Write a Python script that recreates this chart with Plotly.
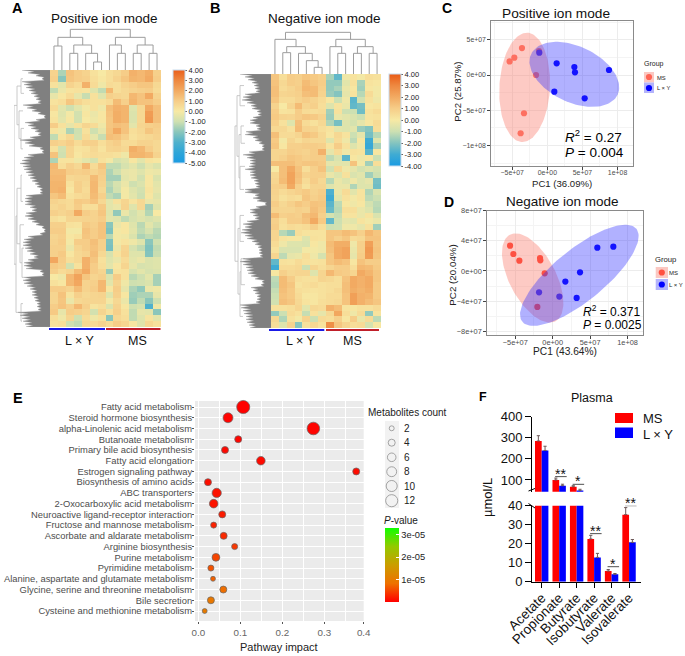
import numpy as np
import plotly.graph_objects as go

W, H = 685, 656

# ---------- heatmap values (estimated, one band per row) ----------
heat_a = [
[.8,-1.5,1.3,1,.8,.3,0,.4,.6,1,1.8,1.6,1.9,.9],
[.9,-2,1.2,1,.9,.4,.1,.4,.8,1.2,1.7,1.6,2,1],
[.3,-.5,.8,.5,1.8,.5,-.2,.5,.4,.8,1,1.2,1.2,.6],
[-1.2,-.3,.2,.3,.2,-.6,-1.2,1.6,.4,.6,.8,.9,1,.5],
[-.4,.1,.5,-.4,-1.1,.3,-.6,.9,.7,.6,1.6,1.3,2,.8],
[.2,.4,1.2,.7,.4,.3,.3,.5,1.5,.9,1.7,1.3,1.3,1],
[.5,-.5,-1,-.5,-.1,.3,-.2,1.4,1.8,1.7,-.6,.6,2,1.4],
[.1,-.6,-.1,-.9,.1,-.3,.1,1.3,1.9,1.7,-.7,.6,2.4,1.4],
[.2,-.5,.1,-.9,0,-.2,.1,1.2,1.9,1.7,-.7,.6,2.5,1.4],
[1,.3,-.4,.3,.7,.5,-.2,1.2,1.4,1.3,-.5,.7,.9,1],
[.2,-.2,-1.5,-1,.3,-1,-.4,1.3,2,1.3,.4,.6,1.2,.9],
[-1.2,.2,.6,-.9,.5,-.4,-1.1,1.4,1.3,.9,.3,.5,.6,.8],
[.9,.7,1,.5,.9,.9,.4,.8,1,.5,.5,.8,.8,.6],
[.3,-.9,.7,.2,.3,.6,.2,.7,.8,.6,1.9,1.6,1,.6],
[1.3,-1,.7,.1,.4,.5,.4,.4,.3,-.2,1.7,1.7,1.5,.8],
[-1.5,.2,.2,-.2,-.5,-.8,.3,-.1,-.8,-.6,.1,-.5,.2,.1],
[1.6,.4,.9,.6,1.6,.5,1.2,-1.2,-1.2,-.8,-.5,-1,-.4,-.7],
[1.5,1.5,1,.9,1,.7,1,-1.5,-1,-.4,-.3,-.6,-.2,-.3],
[1.6,1.6,.6,.7,.7,1.5,.9,-1.6,-1.6,-.5,-.3,-.9,.1,-.7],
[1.7,1.7,.3,.9,.6,1.6,.8,-1.3,-.8,-.3,-1,-.7,.1,-.5],
[1.7,1.8,.1,.9,.5,1.6,.6,-1.5,-.9,-.1,-.6,-.9,.2,-.4],
[1.2,1.5,.3,.5,.6,1.5,.9,-1.2,-1.5,-.1,-.5,-1,.1,-.6],
[.8,.6,.5,1.1,1,1.3,.6,-.5,.3,.7,.2,.6,-.3,-.4],
[.6,.8,.5,1,.4,.4,1.1,-.5,-.3,.8,-.6,.6,-1.6,-.6],
[.9,.7,.9,2,1,.8,1.2,-.6,-1.9,-.3,-.9,-.5,-1.4,0],
[.4,.2,.7,.7,.8,.8,1,-.5,-.6,-1.2,-.8,-.6,-.8,-.6],
[.9,.9,.3,.2,1.1,.9,1.3,-2,-.3,.1,-.6,-1.3,-.5,-1],
[1,1,-.1,-.1,1.3,1,1.3,-2.2,-.1,.1,-.5,-1.2,-.8,-1.3],
[.7,.9,.1,.3,1.2,1,1.3,-1.3,-.1,-.2,-.7,-1.5,-1.2,-1.4],
[.8,1,-.1,1,1,1.4,.9,-2.2,-.1,.2,-.2,-.6,-2,-1],
[.9,.9,-.3,.7,1,1.3,.9,-2.3,-.3,.7,-.8,-1.2,-2.2,-1.2],
[.9,1.1,.1,.6,.8,1.4,.6,-.8,.2,.8,-.6,-.6,-2.1,-1.1],
[2.1,1,.4,.6,1.8,1.2,.3,-.6,-.3,.5,-.5,-.3,-.7,-.6],
[1.1,.9,-.9,.3,1.8,1,.4,-.5,.1,.7,-.4,-.8,-.7,-.6],
[.9,.5,.7,1.5,2,1,.7,-1.8,.2,.3,-.8,-.5,-.8,-.7],
[0,-.2,1.6,2.2,1.2,.7,.9,-.7,1,.3,-1.3,-1,-.5,-1.6],
[.3,.1,1.6,2.1,.8,.9,1.6,-.5,.8,-.2,-1,-.9,-.7,-1.6],
[1,1,.8,1.5,.8,1,1.6,.1,1,-.4,-1.5,-1.9,-.3,-.2],
[.7,1.3,.2,.9,.6,.7,.8,-.6,.9,.1,-1.7,-1.5,-1.5,-.4],
[.7,1.2,-.3,.6,.7,.7,.7,-.1,.6,-.3,-1.8,-1.2,-2,-1],
[1,1.3,.9,1.6,.9,.2,.4,-.7,.8,.1,-1,-.8,-3,-.2],
[1.1,-.4,1,.9,.7,-.9,.7,.3,.9,.3,-1.2,-.4,-.5,-2],
[.4,-.2,.7,-1,.5,-.2,.3,-2,.6,.4,-1.2,-.6,.2,-.5],
[.3,.4,-1,-1.2,.6,.5,.8,.5,1,.7,.1,-.6,.6,.3],
]
heat_b = [
[1.2,.4,1,.9,1.2,1.1,.9,-1.5,-2.5,-.2,.2,-.1,.4,.3],
[1.3,.6,1,.9,1.5,1.2,1,-1.8,-1.8,-.5,.3,-1.5,.2,.1],
[1.4,.5,.7,1,1.6,1.5,.9,-1.8,-1.5,-.3,.1,-1.6,.1,-.1],
[1.4,.7,.8,.9,1.4,1.5,.8,-1.7,-2,-.4,.2,-1.3,.5,-.1],
[1.2,.5,.5,.8,1,.8,.5,.1,-1,-.2,-2.6,-.9,.3,-.2],
[.8,0,.7,1.5,.7,.9,.4,-.6,.2,-.3,-2.5,-2.2,.1,.2],
[1,.2,.3,1,.5,.4,.5,-1.6,.3,-1,-1,-2.3,.3,.5],
[1.1,.8,.7,1,1.2,1.1,.8,-1.7,-.3,-.5,-.7,-1,.2,.3],
[.9,.3,-.6,1.4,.5,.3,.6,-1.4,-2.2,-.6,-.8,-.4,.1,.5],
[.6,.6,.3,1.5,.8,.7,.4,.2,-.5,-.6,-.5,-1.7,-2,.4],
[1.4,.5,.5,.7,1.3,1.1,.6,.1,.6,.2,-1,-.4,-2.2,-1.3],
[1.1,-.1,.7,.4,.7,.6,.6,-.6,.5,-.2,-1.2,.1,-3,-.6],
[1.2,.1,.9,.9,1,1,.9,.2,1,.3,-.6,-.2,-3.2,-1.5],
[.7,.7,1,.9,.8,1,1.8,-.4,.5,-.2,.3,.2,-2.6,.1],
[.7,.9,1.2,1.1,.9,1,1,-1.2,-.7,-2.6,.1,-.2,.1,-1],
[1.4,1.4,1.4,1.1,1.2,1.2,1.1,-.4,-.5,-.5,1.3,-.1,-1.6,.4],
[0,1.4,2,1.3,.4,.9,1.3,-.9,.6,-.2,-.4,-.8,-.6,-.8],
[.6,1.4,2.2,1.4,.8,.9,.9,-.3,-.6,.3,-.7,-.5,-1.6,-1],
[.7,1.5,2.2,1.3,.5,1,.6,-1.3,-.3,-.6,-.2,-.6,-.4,-2.2],
[.9,1,2,.9,.3,.7,.7,-.6,-.3,-.3,-1.4,-.6,-.6,-2.3],
[.8,.5,.7,.9,1.1,.8,1,-2.8,-.3,.5,-.5,.2,-1.4,-.7],
[.7,.3,.5,.4,1.2,.9,1.1,-3,-.5,.3,-.1,.2,-1.2,-1],
[1,.6,.9,1.2,1,1.3,1.2,-2.6,-1.2,.1,-.2,.1,-.8,-1.2],
[.8,.7,.7,.9,.8,1.4,1.1,-2.4,-1.3,.4,.4,-.3,-.6,-1.3],
[1.5,.9,1,.9,1.4,1.6,.9,-.8,-1.1,.2,.2,-.3,.2,-.7],
[.9,.4,1,1,1.3,2,1.1,-2.5,-1,-.4,-.5,.2,-.1,-.3],
[1,.3,.5,.4,.5,.9,.4,-1,-.9,-.2,-.2,-.4,.3,-1.6],
[.7,-1.3,-1.7,.4,.2,.2,.2,1.2,1.2,1.5,1.3,.9,1.6,1.2],
[.7,.2,.1,.1,-.6,.3,.2,1.2,.9,1.2,.5,.6,1.3,1.3],
[.5,-.2,-.6,-.6,-.7,.1,-.2,1.5,1.9,1.9,-.2,.9,2.3,1.2],
[.3,-.7,-.7,-.7,-.1,-.1,-.2,1.4,2,2.2,-.3,.9,2.5,1.3],
[.7,-1.2,-.4,-.3,.4,-.2,-.8,1.2,2,2.2,-.4,1,2.4,1.2],
[-2.5,.3,.2,.5,.3,.2,.3,1.2,1.5,1.3,.1,1.3,1,1],
[-3,.5,.5,.6,-1,.7,.4,.7,1,1,.4,1.6,1.5,1.1],
[.1,.9,.6,.7,.7,-.6,.7,1.6,1.1,1,.7,2,1.7,1.2],
[-1.2,1.5,1,.4,.3,.3,.7,.6,.4,1.3,2,1.8,2,1.2],
[-1.3,1.5,1.2,.2,.4,.5,.3,.4,.4,1.4,2,1.8,2,1.1],
[-1.1,1.4,1.1,.4,.3,.2,.3,.4,.6,1.4,1.9,1.7,1.9,1.1],
[-1,1.3,1.1,.5,.1,.1,.3,.5,.5,1.3,2.3,1.8,1.7,1.1],
[-.9,1.4,1.2,.6,.2,.1,.4,.5,.6,1.3,2.3,1.8,1.5,1.2],
[.3,.3,.4,.7,-.5,.6,.5,1.8,1.5,.2,.1,.3,.3,.5],
[-1.8,-1,.5,.3,-1.1,.3,-.4,.6,2.1,.4,-.2,.5,-1.8,.2],
[.6,-1.4,.3,-.1,.8,-1,.5,.4,.9,.1,1,-.3,.5,-1.2],
[.4,-.6,.8,-1.9,.3,.6,.2,2.8,1.2,.7,.4,.5,-.8,.1],
]
heat_vals_a = [-5,-4,-3,-2,-1,0,1,2,3,4]
heat_cols_a = ['#1a9be2','#2ea5d8','#4fb1cc','#8ac6bb','#cfe0b0','#f7e9a4','#f6cd88','#f2aa62','#ee8840','#ea5f1c']
heat_vals_b = [-4,-3,-2,-1,0,1,2,3,4]
heat_cols_b = ['#1a9be2','#3fabd3','#84c4bf','#cde0b2','#f7e9a4','#f6cd88','#f2aa62','#ee8840','#ea5a14']

# column dendrograms: (left, right, merge height)
col_tree_a = (((0,1,72),((2,3,50),(4,(5,6,24),50),75),98),((7,(8,9,50),75),((10,11,50),(12,13,50),75),98),122)
col_tree_b = ((0,((1,2,64),(3,(4,(5,6,20),40),62),82),104),((7,(8,9,62),82),((10,11,62),(12,13,62),82),104),125)

# row dendrograms: cluster rows, cluster heights, merges, and tip depth by half-row
row_leaf_a = [1,3.5,6.5,9.5,13,17.5,22,26,30,35,39.5,42.5]
row_leaf_h_a = [27,26,27,26,27,28,27,26,26,26,27,28]
row_tree_a = (((0,1,29),(2,(3,4,29),31),33),(((5,6,29),(7,(8,9,28),30),33),(10,11,29),34),36)
row_leaf_b = [1.5,5,8.5,11.5,15.5,19.5,24,28.5,31.5,36,41.5]
row_leaf_h_b = [27,26,27,26,26,27,27,27,26,26,28]
row_tree_b = (((0,1,31),((2,3,30),(4,5,31),32),34),((6,7,31),((8,9,30),10,31),33),36)
tips_a = [28,22,14,8,28,26,24,21,19,16,14,12,27,23,18,12,6,14,25,22,19,15,12,20,30,25,21,10,8,22,26,28,30,27,26,24,22,20,18,15,13,10,10,24,25,25,25,20,18,24,25,22,18,14,8,6,10,22,26,27,27,25,23,20,16,22,26,26,24,10,8,26,27,26,23,20,18,18,16,15,13,13,12,32,30,28,27,25,24]
tips_b = [31,26,23,19,17,16,15,26,28,29,24,20,19,14,13,18,21,21,15,14,25,26,18,16,12,9,9,22,28,24,21,21,22,26,21,21,20,17,16,15,26,26,16,18,14,6,15,21,21,18,16,24,28,26,29,30,26,24,19,16,13,12,12,11,28,31,28,25,24,23,20,16,9,10,20,18,16,14,14,15,31,30,28,27,25,25,24,22,21]

# ---------- PCA scores ----------
c_ms_x = [-3.61e7,-5.37e7,-4.70e7,-1.19e7,-1.61e7,-3.32e7,-3.80e7]
c_ms_y = [3.82e7,1.93e7,2.45e7,3.40e7,0,-5.42e7,-8.25e7]
c_ly_x = [-1.14e7,1.33e7,3.85e7,3.94e7,8.78e7,1.0e7,5.32e7]
c_ly_y = [3.16e7,1.65e7,1.13e7,.38e7,.71e7,-2.36e7,-3.30e7]
d_ms_x = [-5.69e7,-5.25e7,-4.45e7,-1.69e7,-1.65e7,-1.07e7,-2.05e7]
d_ms_y = [3.36e7,2.25e7,1.37e7,1.72e7,1.41e7,-.31e7,-4.77e7]
d_ly_x = [5.96e7,8.10e7,3.65e7,1.69e7,-1.82e7,.89e7,3.2e7]
d_ly_y = [3.09e7,3.23e7,-.18e7,-1.41e7,-2.83e7,-3.40e7,-3.58e7]
# ellipses: centre x, centre y, semi-major, semi-minor, angle in degrees
c_ms_ell = (-3.23e7,-1.75e7,7.75e7,3.6e7,87)
c_ly_ell = (3.85e7,.09e7,6.8e7,3.97e7,-25)
d_ms_ell = (-2.67e7,-.93e7,6.5e7,3.1e7,-62)
d_ly_ell = (3.56e7,-.575e7,9.8e7,3.43e7,39)

# ---------- pathway bubbles ----------
pathways = ["Fatty acid metabolism","Steroid hormone biosynthesis","alpha-Linolenic acid metabolism","Butanoate metabolism",
 "Primary bile acid biosynthesis","Fatty acid elongation","Estrogen signaling pathway","Biosynthesis of amino acids",
 "ABC transporters","2-Oxocarboxylic acid metabolism","Neuroactive ligand-receptor interaction","Fructose and mannose metabolism",
 "Ascorbate and aldarate metabolism","Arginine biosynthesis","Purine metabolism","Pyrimidine metabolism",
 "Alanine, aspartate and glutamate metabolism","Glycine, serine and threonine metabolism","Bile secretion","Cysteine and methionine metabolism"]
impact = [.107,.0707,.274,.095,.0636,.149,.376,.023,.0438,.0366,.057,.0366,.0604,.0866,.042,.030,.035,.0596,.030,.0152]
counts = [14,8,13,4,4,6,4,4,7,6,4,3,4,3,5,3,2,4,4,2]
pvals = [.1e-6,.2e-6,.3e-6,.4e-6,.6e-6,.7e-6,.8e-6,1e-6,1.3e-6,1.5e-6,2e-6,2.5e-6,3e-6,4e-6,5e-6,6e-6,7e-6,8e-6,9.5e-6,10e-6]
legend_counts = [2,4,6,8,10,12]

# ---------- SCFA bars ----------
acids = ["Acetate","Propionate","Butyrate","Isobutyrate","Valerate","Isovalerate"]
ms_vals = [285,100,68,22.5,5.6,35.3]
ly_vals = [240,73,50,12.8,3.9,20.7]
ms_err = [25,9,5,1.9,.8,3.7]
ly_err = [20,7,6,2.1,.4,1.5]
sig_up = [(1,"**",116),(2,"*",79.5)]
sig_low = [(3,"**",25.3),(4,"*",7.9),(5,"**",40)]

FONT = "Liberation Sans"
fig = go.Figure()
layout = dict(width=W, height=H, margin=dict(l=0,r=0,t=0,b=0,autoexpand=False), paper_bgcolor='white', plot_bgcolor='rgba(0,0,0,0)',
              showlegend=False, font=dict(family=FONT, color='#000'), barmode='group', bargap=.233, bargroupgap=0,
              hovermode=False)
annots, shapes = [], []
_n = [0]

def addt(tr, xaxis, yaxis):
    tr.xaxis = xaxis; tr.yaxis = yaxis
    fig.add_trace(tr)

def add_ax(l, r, t, b, x=None, y=None):
    _n[0] += 1
    n = _n[0]
    bx = dict(domain=[l/W, r/W], anchor=f'y{n}', showgrid=False, zeroline=False, visible=False)
    by = dict(domain=[1-b/H, 1-t/H], anchor=f'x{n}', showgrid=False, zeroline=False, visible=False)
    bx.update(x or {}); by.update(y or {})
    layout[f'xaxis{n}'] = bx; layout[f'yaxis{n}'] = by
    return dict(xaxis=f'x{n}', yaxis=f'y{n}')

def txt(x, y, s, size, color='#000', anchor='left', angle=0):
    annots.append(dict(x=x/W, y=1-y/H, xref='paper', yref='paper', text=s, showarrow=False, xanchor=anchor, yanchor='middle',
                       font=dict(size=size, color=color, family=FONT), textangle=angle, borderpad=0, borderwidth=0))

def rect(x0, y0, x1, y1, color):
    shapes.append(dict(type='rect', xref='paper', yref='paper', x0=x0/W, x1=x1/W, y0=1-y0/H, y1=1-y1/H, fillcolor=color, line_width=0, layer='below'))

def seg(x0, y0, x1, y1, color='#000', w=1):
    shapes.append(dict(type='line', xref='paper', yref='paper', x0=x0/W, x1=x1/W, y0=1-y0/H, y1=1-y1/H, line=dict(color=color, width=w)))

def tree_lines(node, pos, hts, a, b):
    if not isinstance(node, tuple):
        return pos[node], hts[node]
    pl, hl = tree_lines(node[0], pos, hts, a, b)
    pr, hr = tree_lines(node[1], pos, hts, a, b)
    h = node[2]
    a += [pl, pl, pr, pr, None]
    b += [hl, h, h, hr, None]
    return (pl+pr)/2, h

def cscale(vals, cols):
    lo, hi = vals[0], vals[-1]
    return [[(v-lo)/(hi-lo), c] for v, c in zip(vals, cols)]

def heat_panel(z, vals, cols, tree_c, leaf, leaf_h, tree_r, tips, box, cb, depth, rtop):
    l, r, t, b = box
    ax = add_ax(l, r, t, b, dict(range=[-.5,13.5]), dict(range=[43.5,-.5]))
    addt(go.Heatmap(z=z, zmin=vals[0], zmax=vals[-1], colorscale=cscale(vals, cols), hoverinfo='skip', xgap=0, ygap=0,
        colorbar=dict(x=cb[0]/W, xanchor='left', y=1-(cb[2]+cb[3])/2/H, yanchor='middle', lenmode='pixels', len=cb[3]-cb[2],
            thicknessmode='pixels', thickness=cb[1]-cb[0], ypad=0, xpad=0, outlinewidth=1, outlinecolor='#c8dcee',
            tickmode='array', tickvals=vals, ticktext=[f'{v:.2f}' for v in vals], ticks='outside', ticklen=2, tickwidth=.5,
            tickcolor='#666', tickfont=dict(size=7.5, color='#222', family=FONT))), **ax)
    ax = add_ax(l, r, rtop, t, dict(range=[-.5,13.5]), dict(range=[0,(t-rtop)*3]))
    xs, ys = [], []
    tree_lines(tree_c, list(range(14)), [0]*14, xs, ys)
    addt(go.Scatter(x=xs, y=ys, mode='lines', line=dict(color='#9d9d9d', width=1), hoverinfo='skip'), **ax)
    ax = add_ax(l-depth, l, t, b, dict(range=[depth,0]), dict(range=[43.5,-.5]))
    xs, ys = [], []
    tree_lines(tree_r, leaf, leaf_h, ys, xs)
    addt(go.Scatter(x=xs, y=ys, mode='lines', line=dict(color='#bdbdbd', width=.8), hoverinfo='skip'), **ax)
    rows = [-.5 + i/2 for i in range(len(tips))]
    px, py = [0], [rows[0]]
    for i, (tip, row) in enumerate(zip(tips, rows)):
        px.append(tip); py.append(row)
        if i < len(tips)-1:
            px.append(min(tip, tips[i+1])*.72); py.append(row+.25)
    px.append(0); py.append(rows[-1])
    addt(go.Scatter(x=px, y=py, mode='lines', fill='toself', fillcolor='#808080',
                    line=dict(color='#9a9a9a', width=.4), hoverinfo='skip'), **ax)

heat_panel(heat_a, heat_vals_a, heat_cols_a, col_tree_a, row_leaf_a, row_leaf_h_a, row_tree_a, tips_a,
           (50,161,70,327), (172.5,184,70,163), 36, 26)
heat_panel(heat_b, heat_vals_b, heat_cols_b, col_tree_b, row_leaf_b, row_leaf_h_b, row_tree_b, tips_b,
           (271,381,74,328), (389,401,74,166), 37, 30)

rect(49,328,105,330,'#1a1ae6'); rect(106,328,160.5,330,'#c01f2a')
rect(269,329,324.3,331,'#1a1ae6'); rect(326,329,379,331,'#c01f2a')
txt(80,341,'L × Y',12.5,'#111','center'); txt(137,341,'MS',12.5,'#111','center')
txt(301,341,'L × Y',12.5,'#111','center'); txt(352,341,'MS',12.5,'#111','center')
txt(104,18,'Positive ion mode',13.5,'#111','center'); txt(324,18,'Negative ion mode',13.5,'#111','center')

# panel letters
for s, x, y, sz in [('A',12,7.5,14.5),('B',210,8,14.5),('C',441.5,8.5,14),('D',443.5,202,14),('E',12.5,398,14.5),('F',479,397,12.5)]:
    txt(x, y, f'<b>{s}</b>', sz)

def ellipse(p, ax, color):
    cx, cy, a, b, th = p
    t = np.linspace(0, 2*np.pi, 120); th = np.radians(th)
    ex = cx + a*np.cos(t)*np.cos(th) - b*np.sin(t)*np.sin(th)
    ey = cy + a*np.cos(t)*np.sin(th) + b*np.sin(t)*np.cos(th)
    addt(go.Scatter(x=ex, y=ey, mode='lines', fill='toself', fillcolor=color, line=dict(width=0), hoverinfo='skip'), **ax)

def pca_panel(box, xr, yr, xt, xl, yt, yl, xm, ym, xs, ell, msc, tickfs):
    gc = dict(showgrid=True, gridcolor='#ececec', gridwidth=.7, visible=True, showline=True, mirror=True, linecolor='#8a8a8a', linewidth=1.4,
              ticks='outside', ticklen=2.5, tickwidth=.7, tickcolor='#444', tickfont=dict(size=tickfs, color='#4d4d4d', family=FONT), tickmode='array')
    mk = lambda v: dict(tickmode='array', tickvals=v, showgrid=True, gridcolor='#f4f4f4', gridwidth=.5, ticks='')
    ax = add_ax(*box, dict(range=xr, tickvals=xt, ticktext=xl, minor=mk(xm), ticklabelstandoff=-3, **gc), dict(range=yr, tickvals=yt, ticktext=yl, minor=mk(ym), **gc))
    addt(go.Scatter(x=xs[0], y=xs[1], mode='markers', marker=dict(size=6.2, color=msc), hoverinfo='skip'), **ax)
    addt(go.Scatter(x=xs[2], y=xs[3], mode='markers', marker=dict(size=6.2, color='#0000ff'), hoverinfo='skip'), **ax)
    ellipse(ell[0], ax, 'rgba(250,128,114,.42)')
    ellipse(ell[1], ax, 'rgba(50,50,255,.38)')

pca_panel((491,632.7,21,166),[-8.02e7,1.216e8],[-1.289e8,7.65e7],[-5e7,0,5e7,1e8],['−5e+07','0e+00','5e+07','1e+08'],
          [-1e8,-5e7,0,5e7],['−1e+08','−5e+07','0e+00','5e+07'],[-7.5e7,-2.5e7,2.5e7,7.5e7,1.25e8],[-1.25e8,-7.5e7,-2.5e7,2.5e7,7.5e7],
          (c_ms_x,c_ms_y,c_ly_x,c_ly_y),(c_ms_ell,c_ly_ell),'#ff6555',6.9)
pca_panel((487,643.3,210.7,335),[-8.77e7,1.21e8],[-8.5e7,8e7],[-5e7,0,5e7,1e8],['−5e+07','0e+00','5e+07','1e+08'],
          [-8e7,-4e7,0,4e7,8e7],['−8e+07','−4e+07','0e+00','4e+07','8e+07'],[-7.5e7,-2.5e7,2.5e7,7.5e7],[-6e7,-2e7,2e7,6e7],
          (d_ms_x,d_ms_y,d_ly_x,d_ly_y),(d_ms_ell,d_ly_ell),'#ff3020',7.4)

txt(555.7,13.5,'Positive ion mode',13.7,'#111','center')
txt(562.3,201.5,'Negative ion mode',13.5,'#111','center')
txt(562,183,'PC1 (36.09%)',9.6,'#222','center'); txt(458,91.7,'PC2 (25.87%)',9.6,'#222','center',-90)
txt(565,135.5,'<i>R</i><sup>2</sup> = 0.27',13.5); txt(565,152.5,'<i>P</i> = 0.004',13.5)
txt(565,351.5,'PC1 (43.64%)',10.2,'#222','center'); txt(451.7,275,'PC2 (20.04%)',9.8,'#222','center',-90)
txt(582.7,311,'<i>R</i><sup>2</sup> = 0.371',12); txt(582.7,325,'<i>P</i> = 0.0025',12)

# E bubbles
tickc = '#4d4d4d'
ax = add_ax(195,363.7,401,621,
    dict(range=[-.00786,.3938], visible=True, tickmode='array', tickvals=[0,.1,.2,.3,.3938], ticktext=['0.0','0.1','0.2','0.3','0.4'],
         showgrid=True, gridcolor='#ffffff', gridwidth=1, ticks='outside', ticklen=2, tickcolor='#555', tickfont=dict(size=9.8,color='#666',family=FONT),
         minor=dict(tickmode='array', tickvals=[.05,.15,.25,.35], showgrid=True, gridcolor='#ffffff', gridwidth=.5, ticks='')),
    dict(range=[19.93,-.56], visible=True, tickmode='array', tickvals=list(range(20)), ticktext=pathways, showgrid=True, gridcolor='#ffffff', gridwidth=1,
         ticks='outside', ticklen=2, tickcolor='#555', tickfont=dict(size=9.4,color=tickc,family=FONT), ticklabelstandoff=-2))
rect(195,401,363.7,621,'#ebebeb')
pscale = [[0,'#ff0000'],[.25,'#ee7100'],[.5,'#cb9d00'],[.75,'#93c900'],[1,'#10ff00']]
size_of = lambda c: [3.5*np.sqrt(v) for v in c]
addt(go.Scatter(x=impact, y=list(range(20)), mode='markers', hoverinfo='skip', cliponaxis=False,
    marker=dict(size=size_of(counts), sizemode='diameter', opacity=1, color=pvals, cmin=0, cmax=3.29e-5, colorscale=pscale, line=dict(color='#666', width=.7),
        colorbar=dict(x=385/W, xanchor='left', y=1-565/H, yanchor='middle', lenmode='pixels', len=74, thicknessmode='pixels', thickness=14, ypad=0, xpad=0,
            outlinewidth=0, tickmode='array', tickvals=[1e-5,2e-5,3e-5], ticktext=['1e-05','2e-05','3e-05'], ticks='inside', ticklen=3, tickcolor='#fff', tickwidth=.5,
            tickfont=dict(size=9.3,color='#222',family=FONT)))), **ax)
txt(279,647,'Pathway impact',11,'#222','center')
txt(368,412,'Metabolites count',10,'#222')
rect(385,421,399,508,'#f2f2f2')
legend_y = [428.3,442.7,457.3,471.7,486,500.7]
for yy, c in zip(legend_y, legend_counts):
    txt(404,yy,str(c),10,'#222')
txt(384,520,'<i>P</i>-value',10,'#222')

# F bars
upper = add_ax(532,641,416.7,491.7, dict(range=[-.555,5.684]),
    dict(range=[44.5,400], visible=True, showline=True, linecolor='#000', linewidth=1, ticks='outside', ticklen=6, tickwidth=1, tickcolor='#000',
         tickvals=[100,200,300,400], tickmode='array', tickfont=dict(size=13,family=FONT,color='#111')))
lower = add_ax(532,641,505.7,581.7,
    dict(range=[-.555,5.684], visible=True, showline=True, linecolor='#000', linewidth=1, ticks='outside', ticklen=5, tickwidth=1, tickcolor='#000',
         tickmode='array', tickvals=list(range(6)), ticktext=acids, tickangle=-45, tickfont=dict(size=13.5,family=FONT,color='#111'), ticklabelstandoff=-3),
    dict(range=[0,40], visible=True, showline=True, linecolor='#000', linewidth=1, ticks='outside', ticklen=6, tickwidth=1, tickcolor='#000',
         tickvals=[0,10,20,30,40], tickmode='array', tickfont=dict(size=13,family=FONT,color='#111')))
for ax in (upper, lower):
    for v, e, c in ((ms_vals, ms_err, '#ff0000'), (ly_vals, ly_err, '#0000ff')):
        addt(go.Bar(x=list(range(6)), y=v, marker=dict(color=c, line_width=0), hoverinfo='skip',
            error_y=dict(type='data', array=e, symmetric=False, arrayminus=[0]*6, color='#6e5a5a', thickness=1, width=1.6)), **ax)
for ax, sig in ((upper, sig_up), (lower, sig_low)):
    for i, s, yv in sig:
        addt(go.Scatter(x=[i-.23,i+.43], y=[yv,yv], mode='lines', line=dict(color='#222', width=.8), cliponaxis=False, hoverinfo='skip'), **ax)
        annots.append(dict(x=i+.1, y=yv, xref=ax['xaxis'], yref=ax['yaxis'], text=s, showarrow=False, yanchor='bottom', xanchor='center', yshift=-7,
                           font=dict(size=14,color='#111',family=FONT)))
seg(528.5,491,535,488.5); seg(528.5,503.5,535,508)
txt(487,498,'µmol/L',13,'#111','center',-90)
txt(592,398,'Plasma',12.5,'#111','center')
rect(615,413,633,423,'#ff0000'); rect(615,427.5,633,438,'#0000ff')
txt(643,418,'MS',13,'#111'); txt(643,434,'L × Y',13,'#111')

# legend keys for C, D, E on a page-sized scale
page = add_ax(0,W,0,H, dict(range=[0,W]), dict(range=[H,0]))
rect(644,72,654,82.5,'#fbc8c2'); rect(644,82.5,654,93,'#b4b4fb')
rect(655.7,267,668,278,'#fbc8c2'); rect(655.7,279,668,290,'#b4b4fb')
addt(go.Scatter(x=[649,649,661.8,661.8], y=[77,88,272.5,284.5], mode='markers',
    marker=dict(size=6.2, color=['#ff6555','#0000ff','#ff5040','#0000ff']), hoverinfo='skip'), **page)
txt(644,64,'Group',7,'#222'); txt(657,77.5,'MS',5.8,'#222'); txt(657,88.5,'L × Y',5.8,'#222')
txt(655,259,'Group',7.7,'#222'); txt(669,272.5,'MS',6,'#222'); txt(669,284.5,'L × Y',6,'#222')
addt(go.Scatter(x=[391.7]*6, y=legend_y, mode='markers', hoverinfo='skip',
    marker=dict(size=size_of(legend_counts), sizemode='diameter', color='#f2f2f2', line=dict(color='#666', width=.8))), **page)

layout['annotations'] = annots
layout['shapes'] = shapes
fig.update_layout(**layout)
fig.write_html("out.html", config=dict(displayModeBar=False), post_script="document.body.style.margin='0';")
